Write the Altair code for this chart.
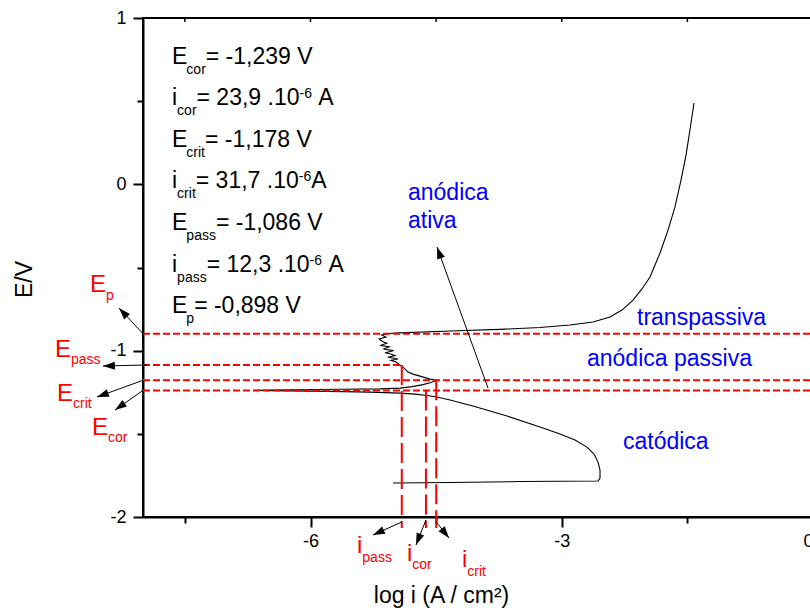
import math
import altair as alt
import pandas as pd

# Characteristic potentials (V) and current densities (10^-6 A)
E_COR, E_CRIT, E_PASS, E_P = -1.239, -1.178, -1.086, -0.898
I_COR, I_CRIT, I_PASS = 23.9, 31.7, 12.3

# Polarization curve (log i vs E), in scan order: cathodic branch, corrosion
# potential, active peak, noisy passivation, passive plateau, transpassive rise
curve_log_i = [
    -5.015, -4.334, -3.498, -2.567, -2.543, -2.543, -2.567, -2.615, -2.699,
    -2.842, -3.021, -3.260, -3.654, -4.060, -4.334, -4.490, -4.609, -4.752,
    -4.931, -5.290, -5.767, -6.245, -6.663,
    -6.245, -5.648, -5.170, -4.931, -4.788, -4.657, -4.561, -4.499,
    -4.573, -4.693, -4.776, -4.836, -4.884, -4.931, -4.979, -5.039, -4.955,
    -5.075, -4.990, -5.040, -5.110, -5.010, -5.130, -5.060, -5.160, -5.090,
    -5.140, -5.180, -5.100, -5.150, -5.063,
    -4.931, -4.334, -3.737, -3.260, -2.902, -2.627, -2.424, -2.281, -2.149,
    -2.042, -1.946, -1.827, -1.731, -1.648, -1.576, -1.516, -1.469, -1.421,
]
curve_E = [
    -1.796, -1.793, -1.787, -1.784, -1.766, -1.718, -1.670, -1.622, -1.580,
    -1.537, -1.501, -1.459, -1.393, -1.333, -1.297, -1.279, -1.270, -1.261,
    -1.255, -1.249, -1.245, -1.242, -1.239,
    -1.235, -1.232, -1.230, -1.225, -1.216, -1.204, -1.192, -1.178,
    -1.171, -1.153, -1.141, -1.129, -1.105, -1.087, -1.068, -1.058, -1.050,
    -1.040, -1.030, -1.020, -1.012, -1.000, -0.990, -0.978, -0.968, -0.955,
    -0.945, -0.930, -0.918, -0.906, -0.897,
    -0.893, -0.882, -0.872, -0.861, -0.846, -0.828, -0.798, -0.756, -0.696,
    -0.629, -0.557, -0.413, -0.275, -0.136, 0.026, 0.176, 0.327, 0.489,
]

X_DOMAIN = [-8, 0]
Y_DOMAIN = [-2, 1]
x_major = [-6, -3, 0]
x_minor = [-7.5, -4.5, -1.5]
y_major = [1, 0, -1, -2]
y_minor = [0.5, -0.5, -1.5]

# Plot geometry (pixels) and pixel -> data helpers for annotations
W, H = 670, 499
LEFT, TOP = 143, 18
PX = W / (X_DOMAIN[1] - X_DOMAIN[0])
PY = H / (Y_DOMAIN[1] - Y_DOMAIN[0])


def xd(px):
    return X_DOMAIN[0] + (px - LEFT) / PX


def yd(py):
    return Y_DOMAIN[1] - (py - TOP) / PY


FONT = "Liberation Sans"
RED = "#ff0000"
BLUE = "#0000ff"

log_cor = math.log10(I_COR * 1e-6)
log_crit = math.log10(I_CRIT * 1e-6)
log_pass = math.log10(I_PASS * 1e-6)

xs = alt.Scale(domain=X_DOMAIN, nice=False, zero=False)
ys = alt.Scale(domain=Y_DOMAIN, nice=False, zero=False)

# Arial / Liberation Sans advance widths (em) for the glyphs used in labels
ADV = {"E": .667, "i": .222, "=": .584, " ": .278, "-": .333, ",": .278,
       ".": .278, "V": .667, "A": .667, "c": .5, "o": .556, "r": .333,
       "t": .278, "p": .556, "a": .556, "s": .5}


def text_width(s, size):
    return sum(ADV.get(ch, .556) for ch in s) * size


def fmt(v, nd):
    return f"{v:.{nd}f}".replace(".", ",")


# ---- curve ----
curve_df = pd.DataFrame({"log_i": curve_log_i, "E": curve_E,
                         "k": range(len(curve_E))})

x_axis_major = alt.Axis(
    values=x_major, tickSize=10, tickWidth=2, tickColor="black",
    domainWidth=2, domainColor="black", grid=False,
    labelFont=FONT, labelFontSize=18, labelColor="black", labelPadding=5,
    labelExpr="'' + datum.value",
    title="log i (A / cm²)", titleFont=FONT, titleFontSize=23,
    titleFontWeight="normal", titleColor="black",
    titleX=298, titleY=85, titleAlign="center", titleBaseline="alphabetic",
    orient="bottom")
y_axis_major = alt.Axis(
    values=y_major, tickSize=10, tickWidth=2, tickColor="black",
    domainWidth=2, domainColor="black", grid=False,
    labelFont=FONT, labelFontSize=18, labelColor="black", labelPadding=7,
    labelExpr="'' + datum.value",
    title="E/V", titleFont=FONT, titleFontSize=23, titleFontWeight="normal",
    titleColor="black", titleAngle=270, titleX=-119, titleY=261,
    titleAlign="center", titleBaseline="middle", orient="left")

curve = alt.Chart(curve_df).mark_line(color="black", strokeWidth=1.1).encode(
    x=alt.X("log_i:Q", scale=xs, axis=x_axis_major),
    y=alt.Y("E:Q", scale=ys, axis=y_axis_major),
    order="k:Q",
)

# ---- horizontal dashed potential lines (carry the minor-tick axes) ----
# E_pass stops at i_pass; the others span the whole plot
hl_df = pd.DataFrame({"E": [E_P, E_PASS, E_CRIT, E_COR],
                      "x0": [X_DOMAIN[0]] * 4,
                      "x1": [X_DOMAIN[1], log_pass, X_DOMAIN[1], X_DOMAIN[1]]})
x_axis_minor = alt.Axis(values=x_minor, tickSize=6, tickWidth=2,
                        tickColor="black", labels=False, domain=False,
                        grid=False, title=None, orient="bottom")
y_axis_minor = alt.Axis(values=y_minor, tickSize=6, tickWidth=2,
                        tickColor="black", labels=False, domain=False,
                        grid=False, title=None, orient="left")
hlines = alt.Chart(hl_df).mark_rule(
    color=RED, strokeWidth=2, strokeDash=[7, 3]).encode(
    x=alt.X("x0:Q", scale=xs, axis=x_axis_minor),
    x2="x1:Q",
    y=alt.Y("E:Q", scale=ys, axis=y_axis_minor),
)

# ---- vertical dashed current lines, running below the axis ----
y_low = yd(528)
vl_df = pd.DataFrame({"log_i": [log_pass, log_cor, log_crit],
                      "E": [E_PASS, E_COR, E_CRIT],
                      "E_low": [y_low] * 3})
vlines = alt.Chart(vl_df).mark_rule(
    color=RED, strokeWidth=2, strokeDash=[20, 6]).encode(
    x=alt.X("log_i:Q", scale=xs, axis=None),
    y=alt.Y("E:Q", scale=ys, axis=None),
    y2="E_low:Q",
)

# ---- inward ticks on the top frame ----
top_df = pd.DataFrame({"v": x_major + x_minor})
top_ticks = alt.Chart(top_df).mark_rule(color="black", strokeWidth=1.5).encode(
    x=alt.X("v:Q", scale=xs, axis=None),
    y=alt.value(0),
    y2=alt.value(4),
)

# ---- annotation arrows ----
arrows = [
    ((-8.0, E_P), (xd(119), yd(308))),
    ((xd(147), E_PASS), (xd(103), yd(366))),
    ((-8.0, E_CRIT), (xd(97), yd(397))),
    ((-8.0, E_COR), (xd(115), yd(410))),
    ((log_pass, yd(522)), (xd(373), yd(535))),
    ((log_cor, yd(520)), (xd(416), yd(545))),
    ((log_crit, yd(522)), (xd(449), yd(538))),
    ((xd(488), yd(388)), (xd(437), yd(247))),
]
ar_rows = []
for (x1, y1), (x2, y2) in arrows:
    dxp = (x2 - x1) * PX
    dyp = -(y2 - y1) * PY
    ang = math.degrees(math.atan2(dxp, -dyp)) % 360
    ar_rows.append({"x1": x1, "y1": y1, "x2": x2, "y2": y2, "ang": ang})
ar_df = pd.DataFrame(ar_rows)

arrow_lines = alt.Chart(ar_df).mark_rule(color="black", strokeWidth=1).encode(
    x=alt.X("x1:Q", scale=xs, axis=None), y=alt.Y("y1:Q", scale=ys, axis=None),
    x2="x2:Q", y2="y2:Q",
)
arrow_heads = alt.Chart(ar_df).mark_point(
    shape="M0,0L0.34,1L-0.34,1Z", filled=True, color="black", opacity=1,
    size=560, strokeWidth=0).encode(
    x=alt.X("x2:Q", scale=xs, axis=None), y=alt.Y("y2:Q", scale=ys, axis=None),
    angle=alt.Angle("ang:Q", scale=None),
)

# ---- text annotations ----
txt = []


def put(px, py, s, size, color):
    # leading blanks collapse in SVG text, so turn them into an x shift
    stripped = s.lstrip(" ")
    px += text_width(s[: len(s) - len(stripped)], size)
    txt.append({"x": xd(px), "y": yd(py), "t": stripped, "size": size,
                "color": color})


# parameter block: symbol, subscript, "= value", optional superscript + tail
rows = [
    ("E", "cor", "= " + fmt(E_COR, 3) + " V", None, None),
    ("i", "cor", "= " + fmt(I_COR, 1) + " .10", "-6", " A"),
    ("E", "crit", "= " + fmt(E_CRIT, 3) + " V", None, None),
    ("i", "crit", "= " + fmt(I_CRIT, 1) + " .10", "-6", "A"),
    ("E", "pass", "= " + fmt(E_PASS, 3) + " V", None, None),
    ("i", "pass", "= " + fmt(I_PASS, 1) + " .10", "-6", " A"),
    ("E", "p", "= " + fmt(E_P, 3) + " V", None, None),
]
MAIN, SUB, SUP = 23, 14, 14
x0 = 172
for k, (sym, sub, rest, sup, tail) in enumerate(rows):
    base = 63.5 + k * 41.6
    put(x0, base, sym, MAIN, "black")
    xs_ = x0 + text_width(sym, MAIN) - (1 if sym == "E" else 0)
    put(xs_, base + 10, sub, SUB, "black")
    xr = xs_ + text_width(sub, SUB)
    put(xr, base, rest, MAIN, "black")
    if sup:
        xp = xr + text_width(rest, MAIN)
        put(xp, base - 7, sup, SUP, "black")
        put(xp + text_width(sup, SUP), base, tail, MAIN, "black")

# red symbol labels next to the arrows
RED_MAIN, RED_SUB = 24, 14
for px, py, sym, sub, off in [
    (90, 292, "E", "p", 8), (55, 357, "E", "pass", 7),
    (57, 401, "E", "crit", 7), (92, 434.5, "E", "cor", 7),
    (357, 553, "i", "pass", 9), (407, 561, "i", "cor", 8),
    (462, 567, "i", "crit", 9),
]:
    put(px, py, sym, RED_MAIN, RED)
    put(px + text_width(sym, RED_MAIN), py + off, sub, RED_SUB, RED)

# blue region labels
for px, py, s in [(408, 200, "anódica"), (408, 228, "ativa"),
                  (637, 325, "transpassiva"), (587, 366, "anódica passiva"),
                  (623, 449, "catódica")]:
    put(px, py, s, 23, BLUE)

txt_df = pd.DataFrame(txt)
texts = alt.Chart(txt_df).mark_text(
    font=FONT, align="left", baseline="alphabetic").encode(
    x=alt.X("x:Q", scale=xs, axis=None), y=alt.Y("y:Q", scale=ys, axis=None),
    text="t:N",
    size=alt.Size("size:Q", scale=None),
    color=alt.Color("color:N", scale=None),
)

chart = alt.layer(
    curve, hlines, vlines, top_ticks, arrow_lines, arrow_heads, texts
).resolve_axis(x="independent", y="independent").properties(
    width=W, height=H,
    padding={"left": LEFT, "top": TOP, "right": -3, "bottom": 91},
    autosize="none",
    background="white",
).configure_view(stroke="black", strokeWidth=2)

chart.save("out.html", embed_options={"renderer": "svg", "actions": False})
